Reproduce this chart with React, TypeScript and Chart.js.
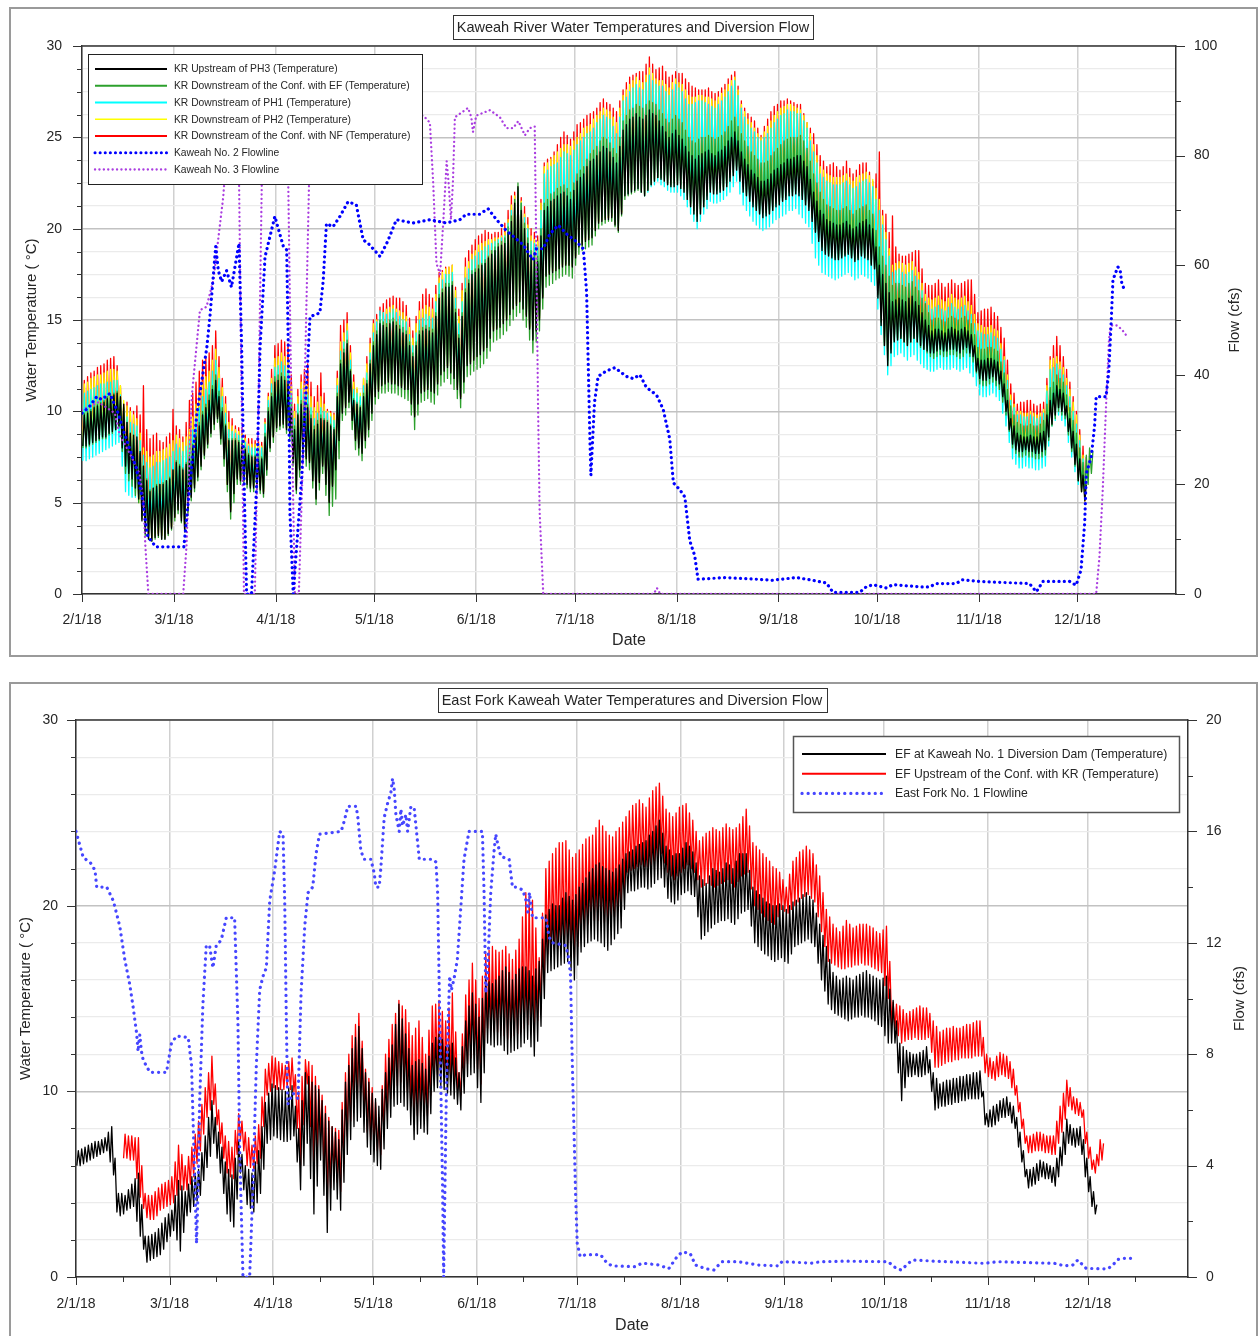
import React, { useEffect, useRef } from "react";
import { Chart, registerables } from "chart.js";

Chart.register(...registerables);

const FONT = "'Liberation Sans', Arial, Helvetica, sans-serif";
const TEXT = "#262626";

// ---------- shared x axis (days since 2/1/18) ----------
const monthStartDays = [0, 28, 59, 89, 120, 150, 181, 212, 242, 273, 303];
const monthLabels = ["2/1/18", "3/1/18", "4/1/18", "5/1/18", "6/1/18", "7/1/18", "8/1/18", "9/1/18", "10/1/18", "11/1/18", "12/1/18"];
const midMonthDays = [14, 42, 73, 103, 134, 164, 195, 226, 256, 287, 317];

// ---------- tick values ----------
const topTempTicks = [0, 1.25, 2.5, 3.75, 5, 6.25, 7.5, 8.75, 10, 11.25, 12.5, 13.75, 15, 16.25, 17.5, 18.75, 20, 21.25, 22.5, 23.75, 25, 26.25, 27.5, 28.75, 30];
const topFlowTicks = [0, 10, 20, 30, 40, 50, 60, 70, 80, 90, 100];
const bottomTempTicks = [0, 1, 2, 3, 4, 5, 6, 7, 8, 9, 10, 11, 12, 13, 14, 15, 16, 17, 18, 19, 20, 21, 22, 23, 24, 25, 26, 27, 28, 29, 30];
const bottomFlowTicks = [0, 2, 4, 6, 8, 10, 12, 14, 16, 18, 20];

// ---------- Chart 1: Kaweah River — daily [min, max] pairs, one pair per day from 2/1/18 ----------
const krUpstreamPH3 = [
  8.1,9.8, 8.1,9.9, 8.2,10.0, 8.3,10.2, 8.4,10.3, 8.5,10.4, 8.6,10.5, 8.6,10.7, 8.8,10.8, 8.9,10.9,
  9.0,11.0, 9.2,10.8, 8.0,10.4, 7.0,9.4, 6.6,8.8, 6.3,8.7, 5.8,8.6, 5.2,7.8, 4.0,7.0, 3.3,6.2,
  3.0,5.6, 2.9,5.8, 3.1,5.9, 3.2,6.0, 3.0,6.0, 3.0,6.2, 3.3,6.3, 3.6,6.8, 4.2,7.2, 4.6,7.0,
  4.0,6.8, 3.4,7.1, 4.6,7.4, 5.3,8.0, 5.8,8.6, 6.4,9.2, 7.0,9.8, 7.6,10.2, 8.2,10.6, 8.8,11.2,
  9.3,11.7, 9.6,10.8, 8.5,10.0, 7.4,9.2, 6.0,8.4, 4.5,8.4, 5.5,8.4, 6.3,8.3, 6.2,8.2, 6.2,7.9,
  6.0,7.6, 5.8,7.5, 5.8,7.5, 5.9,7.4, 5.7,7.4, 5.5,8.6, 6.8,10.0, 8.0,10.8, 8.6,11.6, 9.1,11.7,
  9.2,11.9, 9.3,11.7, 9.0,11.5, 8.8,10.2, 7.2,9.0, 5.7,9.8, 6.8,10.4, 7.6,10.3, 7.4,10.2, 7.2,9.6,
  6.2,9.0, 5.2,9.3, 6.1,9.6, 7.0,9.5, 6.0,9.4, 5.0,9.2, 5.9,9.0, 6.8,10.8, 8.4,12.6, 9.9,13.2,
  10.2,13.7, 10.5,12.2, 9.5,10.6, 8.4,10.4, 8.0,10.2, 7.7,10.8, 8.4,11.5, 9.0,12.6, 9.9,13.6, 10.8,14.2,
  11.1,14.8, 11.4,14.7, 11.5,14.6, 11.6,14.8, 11.5,14.9, 11.5,14.7, 11.4,14.5, 11.3,14.3, 11.2,14.2, 11.2,13.6,
  10.4,13.0, 9.7,13.6, 10.4,14.2, 11.0,14.4, 11.1,14.5, 11.2,14.4, 11.1,14.3, 11.0,15.2, 11.5,16.2, 12.0,16.5,
  12.2,16.8, 12.4,16.8, 12.1,16.9, 11.8,15.4, 11.2,14.0, 10.7,15.2, 11.6,16.5, 12.5,17.0, 12.6,17.5, 12.8,17.6,
  13.0,17.8, 13.1,18.0, 13.3,18.1, 13.5,18.4, 14.0,18.6, 14.4,18.8, 14.5,19.0, 14.6,19.1, 14.8,19.2, 15.0,19.8,
  15.3,20.4, 15.6,21.4, 15.8,22.3, 16.0,21.0, 15.6,20.0, 15.2,19.2, 14.5,18.5, 13.9,18.3, 14.4,18.2, 15.0,19.6,
  16.2,21.0, 17.4,21.2, 17.5,21.5, 17.6,21.6, 17.7,21.8, 17.8,21.9, 17.9,22.0, 18.0,21.8, 18.0,21.6, 17.9,22.1,
  18.4,22.6, 19.0,22.8, 19.1,23.0, 19.3,23.4, 19.4,23.7, 19.5,23.8, 19.9,24.0, 20.3,24.2, 20.4,24.5, 20.5,24.4,
  20.5,24.2, 20.6,23.9, 20.2,23.6, 19.9,24.5, 20.8,25.4, 21.8,25.7, 21.9,26.0, 22.0,26.1, 22.1,26.3, 22.2,26.1,
  22.0,26.0, 21.8,26.2, 22.1,26.5, 22.4,26.3, 22.6,26.2, 22.8,25.9, 22.7,25.6, 22.6,25.3, 22.4,25.0, 22.3,25.2,
  22.3,25.4, 22.4,25.1, 22.2,24.9, 22.0,24.5, 21.6,24.2, 21.2,24.0, 20.8,23.8, 20.4,24.0, 20.8,24.1, 21.2,24.2,
  21.6,24.3, 22.0,24.1, 21.9,24.0, 21.9,24.2, 22.0,24.3, 22.1,24.5, 22.3,24.8, 22.6,25.0, 22.9,25.3, 23.2,24.8,
  22.6,24.2, 22.0,23.8, 21.8,23.5, 21.5,23.2, 21.2,23.0, 21.0,22.8, 20.8,22.6, 20.6,22.6, 20.7,22.7, 20.8,23.0,
  21.0,23.2, 21.2,23.3, 21.3,23.5, 21.5,23.6, 21.6,23.8, 21.8,23.8, 21.8,23.9, 21.9,24.0, 21.8,24.0, 21.6,23.7,
  21.3,23.4, 21.0,22.7, 20.4,22.0, 19.8,21.5, 19.3,21.0, 18.8,20.8, 18.6,20.5, 18.5,20.4, 18.4,20.3, 18.3,20.2,
  18.3,20.2, 18.4,20.3, 18.5,20.4, 18.6,20.2, 18.4,20.0, 18.2,20.1, 18.3,20.3, 18.5,20.4, 18.4,20.5, 18.3,20.2,
  18.0,20.0, 17.8,19.0, 16.2,18.0, 14.7,17.5, 13.6,17.0, 12.5,16.5, 13.2,16.0, 13.8,16.1, 13.9,16.2, 14.0,16.1,
  13.8,16.0, 13.6,16.2, 13.8,16.3, 14.0,16.0, 13.8,15.8, 13.6,15.4, 13.4,15.0, 13.3,14.7, 13.2,14.4, 13.2,14.5,
  13.3,14.5, 13.4,14.4, 13.3,14.3, 13.3,14.5, 13.4,14.6, 13.4,14.5, 13.3,14.4, 13.2,14.5, 13.4,14.6, 13.5,14.4,
  13.2,14.2, 13.0,13.6, 12.2,12.9, 11.8,12.8, 11.7,12.8, 11.7,12.9, 11.8,12.9, 11.9,12.8, 11.7,12.7, 11.5,12.2,
  10.8,11.5, 10.0,10.6, 9.0,9.6, 8.2,9.2, 7.9,8.8, 7.8,8.7, 7.8,8.6, 7.9,8.6, 7.8,8.7, 7.8,8.6,
  7.7,8.6, 7.7,8.8, 7.8,8.9, 7.9,9.8, 8.6,10.6, 9.3,11.0, 9.8,11.4, 10.2,11.2, 10.0,11.0, 9.8,10.3,
  8.9,9.6, 8.0,8.9, 7.1,8.2, 6.2,7.4, 5.6,6.5, 5.1,6.0,
];

const krDownstreamConfEF = [
  8.0,9.9, 8.0,10.0, 8.1,10.1, 8.2,10.3, 8.3,10.4, 8.4,10.5, 8.5,10.6, 8.5,10.8, 8.7,10.9, 8.8,11.0,
  9.0,11.1, 9.1,10.6, 7.8,10.2, 6.6,9.4, 6.2,8.6, 5.9,8.5, 5.4,8.4, 5.0,7.7, 4.1,7.0, 3.2,6.3,
  3.0,5.7, 2.9,5.8, 3.0,6.0, 3.1,6.0, 3.0,6.1, 3.0,6.2, 3.2,6.4, 3.5,6.8, 4.0,7.3, 4.4,7.1,
  3.9,6.9, 3.5,7.2, 4.3,7.6, 5.1,8.2, 5.6,8.8, 6.2,9.4, 6.8,10.0, 7.4,10.4, 8.0,10.9, 8.6,11.4,
  9.0,12.0, 9.4,11.1, 8.2,10.2, 7.0,9.3, 5.6,8.5, 4.1,8.5, 5.0,8.5, 6.0,8.4, 6.0,8.3, 6.0,8.0,
  5.8,7.7, 5.6,7.6, 5.6,7.6, 5.7,7.5, 5.5,7.5, 5.3,8.8, 6.5,10.2, 7.8,11.0, 8.3,11.9, 8.9,12.0,
  9.0,12.1, 9.1,11.9, 8.8,11.7, 8.5,10.4, 7.0,9.2, 5.5,9.9, 6.4,10.6, 7.3,10.5, 7.0,10.4, 6.8,9.8,
  5.8,9.2, 4.9,9.5, 5.7,9.8, 6.6,9.6, 5.4,9.5, 4.3,9.3, 4.8,9.1, 5.2,11.0, 7.4,12.8, 9.5,13.4,
  9.8,13.9, 10.2,12.3, 9.0,10.7, 7.9,10.5, 7.6,10.3, 7.3,11.0, 8.0,11.7, 8.6,12.8, 9.5,13.8, 10.4,14.4,
  10.7,15.0, 11.0,14.9, 11.0,14.8, 11.1,15.0, 11.0,15.1, 11.0,14.9, 10.9,14.7, 10.8,14.6, 10.7,14.4, 10.6,13.8,
  9.8,13.2, 9.0,13.8, 9.8,14.4, 10.5,14.6, 10.6,14.7, 10.7,14.6, 10.5,14.5, 10.4,15.4, 10.9,16.4, 11.4,16.7,
  11.6,17.0, 11.8,17.0, 11.5,17.1, 11.2,15.6, 10.7,14.2, 10.2,15.4, 11.0,16.7, 11.9,17.2, 12.0,17.7, 12.2,17.8,
  12.3,18.0, 12.4,18.1, 12.6,18.3, 12.9,18.5, 13.3,18.8, 13.8,19.0, 13.9,19.2, 14.0,19.3, 14.2,19.5, 14.4,20.1,
  14.7,20.7, 15.0,21.6, 15.2,22.5, 15.4,21.4, 15.0,20.3, 14.6,19.5, 13.9,18.8, 13.2,18.6, 13.8,18.5, 14.4,20.0,
  15.6,21.4, 16.8,21.6, 16.9,21.9, 17.0,22.0, 17.2,22.2, 17.3,22.3, 17.4,22.4, 17.5,22.2, 17.4,22.0, 17.3,22.5,
  18.0,23.0, 18.6,23.2, 18.8,23.4, 18.9,23.8, 19.0,24.1, 19.1,24.3, 19.6,24.5, 20.0,24.8, 20.2,25.0, 20.3,24.9,
  20.4,24.7, 20.4,24.4, 20.1,24.1, 19.8,25.0, 20.7,25.9, 21.6,26.2, 21.8,26.5, 21.9,26.6, 22.0,26.8, 22.1,26.7,
  22.0,26.6, 21.8,26.8, 22.1,27.0, 22.4,26.9, 22.6,26.8, 22.8,26.5, 22.8,26.3, 22.7,26.0, 22.5,25.8, 22.4,26.0,
  22.5,26.2, 22.6,26.0, 22.4,25.8, 22.2,25.4, 21.8,25.0, 21.4,24.8, 21.0,24.7, 20.7,24.9, 21.1,25.0, 21.5,25.0,
  21.8,25.1, 22.2,25.0, 22.1,24.9, 22.1,25.0, 22.2,25.1, 22.3,25.3, 22.5,25.6, 22.8,25.9, 23.1,26.1, 23.4,25.6,
  22.8,25.2, 22.3,24.8, 22.0,24.5, 21.8,24.2, 21.5,24.0, 21.2,23.8, 21.0,23.6, 20.9,23.6, 20.9,23.7, 21.0,24.0,
  21.2,24.2, 21.4,24.4, 21.5,24.6, 21.7,24.8, 21.8,24.9, 22.0,25.0, 22.0,25.0, 22.1,25.0, 22.0,25.1, 21.8,24.8,
  21.5,24.4, 21.2,23.7, 20.6,23.0, 20.0,22.5, 19.5,22.0, 19.0,21.6, 18.8,21.3, 18.6,21.2, 18.5,21.1, 18.4,21.0,
  18.4,21.0, 18.5,21.1, 18.6,21.2, 18.7,21.0, 18.5,20.8, 18.3,21.0, 18.4,21.1, 18.6,21.2, 18.5,21.3, 18.4,21.0,
  18.1,20.8, 17.9,19.9, 16.4,19.0, 14.9,18.5, 13.8,18.0, 12.8,17.4, 13.4,16.9, 13.9,17.0, 14.0,17.0, 14.0,16.9,
  13.8,16.8, 13.6,17.0, 13.8,17.1, 14.0,16.8, 13.8,16.6, 13.5,16.2, 13.4,15.9, 13.2,15.4, 13.0,15.0, 12.9,15.1,
  13.0,15.1, 13.1,15.0, 13.0,14.9, 13.0,15.1, 13.1,15.2, 13.1,15.1, 13.0,15.0, 12.9,15.1, 13.0,15.2, 13.2,15.0,
  13.0,14.8, 12.7,14.2, 12.1,13.5, 11.5,13.4, 11.4,13.4, 11.4,13.5, 11.5,13.5, 11.6,13.4, 11.4,13.3, 11.2,12.7,
  10.5,12.1, 9.8,11.2, 8.9,10.3, 8.0,9.8, 7.7,9.4, 7.5,9.3, 7.5,9.2, 7.6,9.2, 7.5,9.3, 7.5,9.2,
  7.4,9.2, 7.4,9.3, 7.5,9.5, 7.6,10.4, 8.4,11.3, 9.2,11.6, 9.6,12.0, 10.0,11.8, 9.8,11.6, 9.6,10.9,
  8.7,10.2, 7.8,9.5, 7.0,8.8, 6.2,8.0, 5.8,7.2, 5.3,7.6, 6.0,8.0, 6.6,7.8,
];

const krDownstreamPH1 = [
  7.3,11.0, 7.3,11.1, 7.4,11.2, 7.5,11.3, 7.6,11.4, 7.7,11.5, 7.8,11.5, 7.9,11.6, 8.0,11.6, 8.1,11.7,
  8.2,11.7, 8.3,10.9, 7.0,10.0, 5.6,9.7, 5.4,9.4, 5.3,9.3, 5.3,9.2, 5.3,8.4, 4.4,7.6, 3.6,7.2,
  3.5,6.9, 3.4,7.0, 3.5,7.2, 3.6,7.2, 3.5,7.3, 3.4,7.4, 3.6,7.5, 3.9,7.8, 4.4,8.2, 4.8,8.0,
  4.3,7.8, 3.8,8.1, 4.7,8.4, 5.6,9.0, 6.1,9.6, 6.7,10.2, 7.3,10.8, 7.9,11.2, 8.5,11.6, 9.0,12.2,
  9.4,12.8, 9.8,11.8, 8.7,10.8, 7.6,9.9, 6.2,9.0, 4.8,8.9, 5.6,8.8, 6.5,8.7, 6.4,8.6, 6.4,8.3,
  6.2,8.1, 6.0,8.0, 6.0,8.0, 6.1,8.0, 5.9,8.0, 5.7,9.3, 7.0,10.6, 8.2,11.5, 8.7,12.4, 9.3,12.5,
  9.4,12.7, 9.5,12.5, 9.2,12.3, 9.0,11.0, 7.4,9.6, 5.9,10.4, 6.8,11.2, 7.8,11.0, 7.6,10.9, 7.4,10.2,
  6.4,9.6, 5.4,9.9, 6.3,10.2, 7.2,10.0, 6.2,9.9, 5.2,9.7, 6.1,9.5, 7.0,11.4, 8.6,13.3, 10.1,13.8,
  10.4,14.4, 10.7,12.8, 9.6,11.2, 8.6,11.0, 8.2,10.8, 7.9,11.4, 8.6,12.1, 9.2,13.2, 10.1,14.3, 11.0,14.9,
  11.3,15.5, 11.6,15.4, 11.7,15.3, 11.8,15.4, 11.7,15.6, 11.7,15.4, 11.6,15.2, 11.5,15.0, 11.4,14.9, 11.4,14.2,
  10.6,13.6, 9.9,14.3, 10.6,15.0, 11.2,15.1, 11.3,15.3, 11.4,15.2, 11.3,15.1, 11.2,16.0, 11.7,17.0, 12.2,17.2,
  12.4,17.5, 12.6,17.5, 12.3,17.6, 12.0,16.2, 11.4,14.8, 10.9,16.0, 11.8,17.3, 12.7,17.8, 12.8,18.3, 13.0,18.5,
  13.1,18.7, 13.3,18.8, 13.5,19.0, 13.7,19.1, 14.2,19.2, 14.6,19.3, 14.7,19.4, 14.8,19.5, 15.0,19.6, 15.2,20.3,
  15.5,21.0, 15.8,21.6, 16.0,22.2, 16.2,21.4, 15.8,20.6, 15.4,20.0, 14.8,19.3, 14.1,19.2, 14.6,19.0, 15.2,21.0,
  16.4,23.0, 17.6,23.2, 17.7,23.4, 17.8,23.5, 17.9,23.6, 18.0,23.9, 18.1,24.2, 18.2,24.1, 18.1,24.0, 18.1,24.3,
  18.6,24.6, 19.2,24.8, 19.3,25.0, 19.5,25.2, 19.6,25.3, 19.7,25.5, 20.1,25.8, 20.5,26.0, 20.6,26.2, 20.7,26.1,
  20.7,26.0, 20.8,25.6, 20.4,25.2, 20.1,26.1, 21.0,27.0, 21.9,27.2, 21.9,27.5, 22.0,27.7, 22.1,27.9, 22.2,27.7,
  22.0,27.6, 21.8,28.0, 22.0,28.4, 22.3,28.1, 22.4,27.9, 22.6,27.8, 22.4,27.8, 22.3,27.5, 22.1,27.3, 22.0,27.6,
  22.0,27.9, 22.0,27.7, 21.8,27.5, 21.6,27.1, 21.2,26.8, 20.8,26.8, 20.4,26.9, 20.0,27.0, 20.4,27.0, 20.8,26.9,
  21.1,26.8, 21.5,26.7, 21.4,26.6, 21.4,26.8, 21.5,27.0, 21.6,27.2, 21.8,27.5, 22.0,27.8, 22.3,28.1, 22.6,27.3,
  21.9,26.6, 21.3,26.1, 21.0,25.7, 20.7,25.5, 20.4,25.3, 20.2,25.0, 20.0,24.8, 19.9,25.0, 20.0,25.2, 20.1,25.5,
  20.3,25.8, 20.5,26.0, 20.6,26.2, 20.7,26.3, 20.8,26.5, 21.0,26.4, 21.0,26.4, 21.1,26.3, 20.8,26.3, 20.6,25.9,
  20.3,25.5, 20.1,24.8, 19.2,24.2, 18.4,23.6, 18.0,23.0, 17.6,22.8, 17.5,22.6, 17.4,22.5, 17.3,22.4, 17.2,22.4,
  17.3,22.4, 17.4,22.5, 17.5,22.6, 17.6,22.4, 17.4,22.2, 17.2,22.3, 17.3,22.5, 17.5,22.6, 17.4,22.7, 17.3,22.5,
  17.1,22.3, 16.9,21.6, 15.6,21.0, 14.2,20.2, 13.1,19.4, 12.0,18.5, 12.5,17.6, 13.0,17.7, 13.1,17.8, 13.2,17.6,
  13.0,17.5, 12.8,17.6, 13.0,17.7, 13.1,17.4, 12.8,17.2, 12.6,16.6, 12.4,16.0, 12.3,15.8, 12.2,15.6, 12.2,15.7,
  12.3,15.8, 12.4,15.6, 12.3,15.5, 12.3,15.7, 12.3,15.9, 12.4,15.7, 12.3,15.6, 12.2,15.7, 12.3,15.8, 12.4,15.5,
  12.1,15.3, 11.9,14.8, 11.4,14.4, 10.9,14.3, 10.8,14.2, 10.8,14.2, 10.9,14.3, 11.0,14.1, 10.8,14.0, 10.6,13.4,
  9.9,12.8, 9.2,11.7, 8.3,10.6, 7.4,10.2, 7.1,9.8, 6.9,9.8, 6.9,9.7, 7.0,9.7, 6.9,9.8, 6.9,9.7,
  6.8,9.6, 6.8,9.7, 6.9,9.9, 7.0,11.1, 8.1,12.3, 9.2,12.4, 9.5,12.6, 9.8,12.3, 9.5,12.0, 9.2,11.4,
  8.3,10.8, 7.5,10.0, 6.7,9.3, 6.0,8.4, 5.6,7.4, 5.3,7.0,
];

const krDownstreamPH2 = [
  8.0,11.5, 8.0,11.6, 8.1,11.8, 8.2,11.9, 8.3,12.0, 8.4,12.0, 8.5,12.1, 8.5,12.2, 8.7,12.3, 8.8,12.3,
  9.0,12.2, 9.1,11.4, 8.0,10.6, 6.8,10.3, 6.5,10.0, 6.2,9.8, 5.6,9.6, 5.0,8.8, 4.2,8.0, 3.4,7.8,
  3.2,7.5, 3.0,7.6, 3.2,7.8, 3.3,7.8, 3.2,7.9, 3.1,8.0, 3.4,8.2, 3.7,8.4, 4.2,8.7, 4.7,8.5,
  4.2,8.3, 3.6,8.6, 4.5,9.0, 5.4,9.7, 6.0,10.4, 6.5,11.0, 7.1,11.6, 7.7,11.9, 8.3,12.2, 8.9,12.8,
  9.3,13.4, 9.7,12.4, 8.6,11.3, 7.5,10.4, 6.0,9.4, 4.6,9.2, 5.5,9.0, 6.4,8.9, 6.3,8.8, 6.3,8.5,
  6.1,8.2, 5.9,8.2, 5.9,8.2, 6.0,8.2, 5.8,8.1, 5.6,9.4, 6.9,10.8, 8.1,11.8, 8.6,12.9, 9.2,13.0,
  9.3,13.2, 9.4,13.0, 9.1,12.8, 8.9,11.4, 7.3,10.0, 5.8,10.8, 6.8,11.6, 7.7,11.5, 7.5,11.4, 7.3,10.8,
  6.3,10.2, 5.3,10.5, 6.2,10.8, 7.1,10.4, 6.1,10.0, 5.1,9.9, 6.0,9.8, 6.9,11.8, 8.5,13.8, 10.0,14.3,
  10.3,14.8, 10.6,13.2, 9.6,11.6, 8.5,11.3, 8.2,11.0, 7.8,11.8, 8.5,12.6, 9.1,13.7, 10.0,14.8, 10.9,15.0,
  11.2,15.2, 11.5,15.4, 11.6,15.6, 11.7,15.7, 11.6,15.8, 11.6,15.6, 11.5,15.5, 11.4,15.4, 11.3,15.2, 11.3,14.6,
  10.5,14.0, 9.8,14.8, 10.5,15.5, 11.1,15.6, 11.2,15.8, 11.3,15.7, 11.2,15.6, 11.1,16.4, 11.6,17.3, 12.1,17.6,
  12.3,17.8, 12.5,17.9, 12.2,18.0, 11.9,16.6, 11.3,15.2, 10.8,16.6, 11.7,17.9, 12.6,18.2, 12.7,18.6, 12.9,18.8,
  13.0,19.1, 13.2,19.2, 13.4,19.3, 13.6,19.4, 14.1,19.4, 14.5,19.5, 14.6,19.5, 14.7,19.6, 14.9,19.8, 15.1,20.5,
  15.4,21.3, 15.7,21.8, 15.9,22.2, 16.1,21.5, 15.7,20.8, 15.3,20.2, 14.6,19.6, 14.0,19.4, 14.5,19.3, 15.1,21.4,
  16.3,23.4, 17.5,23.6, 17.6,23.8, 17.7,24.0, 17.8,24.2, 17.9,24.4, 18.0,24.6, 18.1,24.6, 18.0,24.5, 18.0,24.8,
  18.5,25.0, 19.1,25.2, 19.2,25.5, 19.4,25.6, 19.5,25.7, 19.6,26.0, 20.0,26.2, 20.4,26.4, 20.5,26.6, 20.6,26.5,
  20.6,26.4, 20.7,26.1, 20.3,25.8, 20.0,26.6, 20.9,27.3, 21.9,27.6, 22.0,27.9, 22.1,28.1, 22.2,28.3, 22.3,28.1,
  22.1,28.0, 21.9,28.4, 22.2,28.8, 22.5,28.5, 22.7,28.2, 22.8,28.1, 22.7,28.1, 22.6,27.9, 22.4,27.7, 22.3,28.0,
  22.3,28.2, 22.4,28.0, 22.2,27.9, 22.0,27.6, 21.6,27.3, 21.2,27.2, 20.8,27.2, 20.4,27.3, 20.8,27.3, 21.2,27.2,
  21.6,27.2, 22.0,27.1, 21.9,27.0, 21.9,27.2, 22.0,27.4, 22.1,27.6, 22.3,27.9, 22.6,28.1, 22.9,28.3, 23.2,27.6,
  22.6,26.8, 22.0,26.4, 21.8,26.0, 21.5,25.8, 21.2,25.5, 21.0,25.2, 20.8,25.0, 20.6,25.3, 20.7,25.6, 20.8,25.9,
  21.0,26.2, 21.2,26.4, 21.3,26.6, 21.5,26.7, 21.6,26.8, 21.8,26.8, 21.8,26.7, 21.9,26.6, 21.8,26.5, 21.6,26.2,
  21.3,25.8, 21.0,25.2, 20.4,24.6, 19.8,24.0, 19.3,23.4, 18.8,23.2, 18.6,23.0, 18.5,22.9, 18.4,22.8, 18.3,22.8,
  18.3,22.8, 18.4,22.9, 18.5,23.0, 18.6,22.8, 18.4,22.6, 18.2,22.8, 18.3,22.9, 18.5,23.0, 18.4,23.1, 18.3,22.9,
  18.0,22.7, 17.8,22.2, 16.2,21.6, 14.7,20.7, 13.6,19.8, 12.5,18.9, 13.2,18.0, 13.8,18.1, 13.9,18.2, 14.0,18.1,
  13.8,18.0, 13.6,18.1, 13.8,18.2, 14.0,17.9, 13.8,17.6, 13.6,17.0, 13.4,16.4, 13.3,16.2, 13.2,16.1, 13.2,16.2,
  13.3,16.3, 13.4,16.1, 13.3,16.0, 13.3,16.2, 13.4,16.4, 13.4,16.2, 13.3,16.1, 13.2,16.2, 13.4,16.3, 13.5,16.0,
  13.2,15.8, 13.0,15.3, 12.2,14.8, 11.8,14.7, 11.7,14.6, 11.7,14.6, 11.8,14.7, 11.9,14.5, 11.7,14.4, 11.5,13.7,
  10.8,13.0, 10.0,12.0, 9.0,10.9, 8.2,10.4, 7.9,10.0, 7.8,10.0, 7.8,9.9, 7.9,9.9, 7.8,10.0, 7.8,9.9,
  7.7,9.8, 7.7,9.9, 7.8,10.1, 7.9,11.4, 8.6,12.8, 9.3,12.9, 9.8,13.0, 10.2,12.7, 10.0,12.4, 9.8,11.8,
  8.9,11.2, 8.0,10.5, 7.1,9.8, 6.2,8.7, 5.6,7.6, 5.1,7.2,
];

const krDownstreamConfNF = [
  8.2,11.7, 8.2,11.9, 8.3,12.1, 8.4,12.2, 8.5,12.4, 8.6,12.5, 8.6,12.6, 8.7,12.8, 8.8,12.9, 9.0,13.0,
  9.1,12.5, 9.3,11.4, 8.1,10.4, 7.0,10.5, 6.7,10.2, 6.4,10.0, 5.8,10.3, 5.2,9.8, 4.3,11.4, 3.5,9.0,
  3.2,8.5, 3.0,8.7, 3.2,8.8, 3.3,8.4, 3.2,8.3, 3.1,8.6, 3.4,8.8, 3.7,10.1, 4.2,9.2, 4.7,9.0,
  4.2,8.6, 3.6,9.4, 4.5,10.6, 5.4,11.0, 6.0,11.6, 6.5,12.2, 7.1,12.8, 7.7,12.9, 8.3,13.2, 8.9,13.6,
  9.3,14.4, 9.7,13.0, 8.6,11.8, 7.5,10.8, 6.0,10.0, 4.6,9.6, 5.5,9.2, 6.4,9.1, 6.3,9.0, 6.3,8.7,
  6.1,8.5, 5.9,8.5, 5.9,8.4, 6.0,8.4, 5.8,8.3, 5.6,9.6, 6.9,11.0, 8.1,12.3, 8.6,13.6, 9.2,13.7,
  9.3,13.9, 9.4,13.8, 9.1,13.7, 8.9,12.0, 7.3,10.4, 5.8,11.2, 6.8,12.0, 7.7,12.3, 7.5,12.6, 7.3,11.6,
  6.3,10.8, 5.3,11.4, 6.2,12.1, 7.1,11.0, 6.1,10.1, 5.1,10.0, 6.0,9.9, 6.9,12.2, 8.5,14.7, 10.0,15.0,
  10.3,15.4, 10.6,13.6, 9.6,12.0, 8.5,11.2, 8.2,10.6, 7.8,11.8, 8.5,13.0, 9.1,14.0, 10.0,15.0, 10.9,15.3,
  11.2,15.7, 11.5,15.9, 11.6,16.1, 11.7,16.2, 11.6,16.3, 11.6,16.2, 11.5,16.2, 11.4,16.0, 11.3,15.8, 11.3,15.1,
  10.5,14.4, 9.8,15.2, 10.5,16.0, 11.1,16.4, 11.2,16.7, 11.3,16.4, 11.2,16.2, 11.1,16.9, 11.6,17.6, 12.1,17.7,
  12.3,17.9, 12.5,17.9, 12.2,18.0, 11.9,16.8, 11.3,15.6, 10.8,17.0, 11.7,18.4, 12.6,18.8, 12.7,19.1, 12.9,19.4,
  13.0,19.6, 13.2,19.7, 13.4,19.9, 13.6,19.8, 14.1,19.7, 14.5,19.8, 14.6,19.8, 14.7,20.0, 14.9,20.3, 15.1,21.0,
  15.4,21.8, 15.7,22.0, 15.9,22.2, 16.1,21.7, 15.7,21.2, 15.3,20.6, 14.6,20.0, 14.0,19.8, 14.5,19.6, 15.1,21.6,
  16.3,23.6, 17.5,23.8, 17.6,23.9, 17.7,24.2, 17.8,24.6, 17.9,25.0, 18.0,25.3, 18.1,25.1, 18.0,24.9, 18.0,25.3,
  18.5,25.7, 19.1,25.8, 19.2,26.0, 19.4,26.2, 19.5,26.3, 19.6,26.4, 20.0,26.6, 20.4,26.9, 20.5,27.1, 20.6,26.9,
  20.6,26.8, 20.7,26.6, 20.3,26.4, 20.0,27.0, 20.9,27.6, 21.9,28.0, 22.0,28.3, 22.1,28.4, 22.2,28.5, 22.3,28.6,
  22.1,28.6, 21.9,29.0, 22.2,29.4, 22.5,29.0, 22.7,28.7, 22.8,28.8, 22.7,28.9, 22.6,28.6, 22.4,28.3, 22.3,28.4,
  22.3,28.6, 22.4,28.5, 22.2,28.5, 22.0,28.2, 21.6,28.0, 21.2,27.8, 20.8,27.7, 20.4,27.6, 20.8,27.6, 21.2,27.6,
  21.6,27.7, 22.0,27.5, 21.9,27.4, 21.9,27.5, 22.0,27.7, 22.1,27.9, 22.3,28.2, 22.6,28.4, 22.9,28.6, 23.2,27.8,
  22.6,27.0, 22.0,26.6, 21.8,26.3, 21.5,26.1, 21.2,25.9, 21.0,25.5, 20.8,25.1, 20.6,25.6, 20.7,26.0, 20.8,26.4,
  21.0,26.7, 21.2,26.8, 21.3,27.0, 21.5,27.0, 21.6,27.1, 21.8,27.0, 21.8,26.9, 21.9,26.8, 21.8,26.8, 21.6,26.3,
  21.3,25.8, 21.0,25.5, 20.4,25.2, 19.8,24.6, 19.3,24.0, 18.8,23.7, 18.6,23.4, 18.5,23.5, 18.4,23.6, 18.3,23.4,
  18.3,23.2, 18.4,23.4, 18.5,23.7, 18.6,23.3, 18.4,23.0, 18.2,23.2, 18.3,23.5, 18.5,23.6, 18.4,23.6, 18.3,23.1,
  18.0,22.6, 17.8,23.0, 16.2,24.2, 14.7,21.0, 13.6,20.8, 12.5,19.8, 13.2,20.7, 13.8,19.0, 13.9,18.6, 14.0,18.5,
  13.8,18.5, 13.6,18.6, 13.8,18.7, 14.0,18.8, 13.8,18.8, 13.6,17.8, 13.4,17.0, 13.3,16.9, 13.2,16.9, 13.2,17.0,
  13.3,17.2, 13.4,17.0, 13.3,16.8, 13.3,17.0, 13.4,17.2, 13.4,17.0, 13.3,16.9, 13.2,17.0, 13.4,17.1, 13.5,17.2,
  13.2,17.2, 13.0,16.4, 12.2,15.4, 11.8,15.5, 11.7,15.6, 11.7,15.6, 11.8,15.7, 11.9,15.4, 11.7,15.2, 11.5,14.6,
  10.8,14.0, 10.0,12.8, 9.0,11.5, 8.2,11.0, 7.9,10.4, 7.8,10.5, 7.8,10.5, 7.9,10.6, 7.8,10.6, 7.8,10.4,
  7.7,10.3, 7.7,10.4, 7.8,10.5, 7.9,11.8, 8.6,13.0, 9.3,13.6, 9.8,14.1, 10.2,13.6, 10.0,13.0, 9.8,12.3,
  8.9,11.6, 8.0,10.8, 7.1,10.0, 6.2,9.0, 5.6,8.1, 5.1,7.5,
];

// [day since 2/1/18, cfs]
const kaweah2Flowline: [number, number][] = [
  [0, 33], [2, 34], [4.5, 36], [6, 35.5], [8.5, 36.6], [11, 33], [12.5, 30], [16.5, 23], [18.5, 17], [20, 10.5],
  [22.5, 8.6], [31, 8.6], [32, 14.7], [33.1, 21.3], [35, 33], [38, 45], [39, 51], [40.7, 63.4], [41.5, 59], [42.5, 57],
  [44, 59], [45.5, 56], [47.8, 64], [48.6, 45], [49.1, 27], [50.1, 0], [51.6, 0], [53.2, 20.6], [54.2, 45], [55.7, 61.5],
  [58.7, 68.9], [61.3, 63.4], [62.3, 62.8], [62.8, 45], [63.3, 14.7], [64.3, 0], [66.8, 20.6], [68.4, 39], [69.4, 50.6], [72.4, 51.3],
  [73.4, 57], [74.4, 67.6], [76.4, 67], [78.5, 68.9], [81, 71.6], [83.5, 71], [85.6, 64.6], [87.1, 64], [90.7, 61.6], [93, 64.3],
  [95.7, 68.3], [100.8, 67.7], [105.9, 68.3], [110.9, 67.7], [115, 68.3], [117, 69.3], [121, 69.3], [123.6, 70.3], [126.2, 68.3], [129.2, 66.3],
  [131.2, 65.3], [134.3, 63.7], [137.3, 61], [138.3, 63], [140.4, 63], [142.4, 65.7], [145, 67.3], [147.5, 65.7], [150.5, 64.3], [152.6, 63],
  [153.6, 55], [154.1, 41.7], [154.6, 28.3], [154.9, 21.7], [156, 35], [157.1, 39.7], [159.6, 40.7], [162.2, 41.3], [165.7, 39.7], [167.8, 39.3],
  [169.8, 40], [171.8, 37.7], [174.9, 36.3], [176.9, 33.7], [178.9, 28.3], [180, 20.3], [182, 19], [183.5, 17.7], [185, 9.7], [186.5, 7],
  [187.5, 2.7], [196, 3], [205, 2.7], [210, 2.5], [217.5, 3], [222.5, 2.5], [226.6, 2], [228.6, 0.3], [236.7, 0.3], [238.7, 1.3],
  [240.8, 1.7], [244.8, 1.1], [246.8, 1.7], [255, 1.3], [258, 1.3], [260, 1.9], [266, 1.9], [268, 2.6], [273, 2.3], [288.4, 1.9],
  [290.5, 0.4], [292.5, 2.3], [300.6, 2.3], [302.6, 1.6], [304.1, 4.4], [305.2, 12.9], [305.7, 22], [307.2, 25], [308.2, 30.5], [308.7, 36],
  [311.7, 36], [312.5, 40.3], [313.3, 50], [313.8, 57.3], [315.3, 59.7], [316, 59.1], [316.5, 56.7], [317.5, 55.2],
];

const kaweah3Flowline: [number, number][] = [
  [0, 33.6], [5, 35], [10, 33], [11.5, 29], [14.5, 25.7], [17.5, 22], [18.7, 17], [19.3, 8.6], [20.2, 0], [30.8, 0],
  [31.8, 8.6], [33.4, 36], [35.9, 51.8], [37.9, 52.4], [40, 57.3], [43, 72.5], [44.5, 85], [46.5, 87], [47.6, 86], [48.3, 50],
  [49.3, 0], [52.6, 0], [53.6, 30], [55, 86], [62.5, 87], [63.6, 40], [64.8, 0], [66, 0], [67.5, 30], [69.5, 86],
  [80, 87], [95, 87], [103.9, 87.3], [105.9, 86], [106.9, 75], [107.9, 60.3], [109, 58.3], [110, 68.3], [111, 79], [111.6, 75],
  [112.3, 68.3], [112.9, 75], [113.5, 87], [117.5, 88.7], [118.5, 87], [119, 84.3], [120, 87.3], [124.2, 88.3], [127.2, 87], [129.2, 85],
  [131.2, 85], [132.8, 86.3], [134.8, 83.7], [136.3, 85], [137.8, 85.3], [138.3, 61.7], [138.8, 35], [139.3, 15], [140.4, 0], [174, 0],
  [175, 1.1], [176, 0], [308.7, 0], [309.7, 6.8], [310.7, 19], [311.7, 34.2], [312.6, 46.4], [313.1, 49], [315.1, 49], [316.6, 48.2],
  [318.1, 47],
];

// ---------- Chart 2: East Fork Kaweah — daily [min, max] pairs ----------
const efDiversionDamStartDay = 0;
const efDiversionDam = [
  6.0,6.8, 6.0,6.9, 6.1,7.0, 6.2,7.1, 6.3,7.2, 6.4,7.3, 6.5,7.3, 6.6,7.4, 6.7,7.5, 6.8,7.8,
  6.2,8.1, 5.5,6.4, 3.5,4.5, 3.3,4.5, 3.4,4.4, 3.6,4.7, 3.7,5.0, 3.8,5.3, 3.0,5.6, 2.2,3.9,
  1.5,2.2, 0.8,2.2, 0.9,2.3, 1.0,2.4, 1.1,2.6, 1.2,2.9, 1.5,3.2, 1.9,3.4, 2.2,3.6, 2.5,4.4,
  2.0,5.2, 1.4,4.9, 2.4,4.6, 3.3,5.0, 3.5,5.4, 3.8,5.6, 4.1,5.8, 4.4,6.7, 5.2,7.6, 5.9,8.6,
  6.5,9.5, 7.2,8.6, 6.4,7.8, 5.6,7.0, 4.5,6.2, 3.4,5.8, 3.0,5.5, 2.7,6.4, 4.2,7.3, 5.6,6.6,
  4.7,6.0, 3.9,5.8, 3.7,5.6, 3.5,6.2, 4.0,6.8, 4.5,8.1, 5.8,9.4, 7.2,9.9, 7.4,10.4, 7.6,10.3,
  7.5,10.2, 7.4,10.1, 7.3,10.0, 7.3,10.2, 7.4,10.3, 7.6,9.2, 6.2,8.0, 4.7,9.5, 6.0,11.0, 7.2,10.8,
  5.3,10.5, 3.4,10.3, 4.9,10.1, 6.3,9.5, 4.4,8.8, 2.4,8.4, 3.6,8.1, 4.7,7.8, 4.2,7.4, 3.6,9.0,
  5.1,10.5, 6.6,11.4, 7.4,12.3, 8.1,12.9, 8.4,13.5, 8.6,12.3, 7.8,11.0, 7.0,10.5, 6.6,9.9, 6.2,9.6,
  6.0,9.2, 5.8,10.1, 6.9,11.0, 8.0,11.8, 8.6,12.5, 9.2,13.6, 9.3,14.7, 9.4,13.9, 9.2,13.1, 9.0,12.3,
  8.2,11.4, 7.4,11.6, 7.7,11.7, 8.0,11.5, 7.8,11.2, 7.7,11.9, 8.8,12.6, 10.0,12.9, 10.2,13.1, 10.3,12.8,
  10.1,12.4, 9.9,12.5, 9.8,12.6, 9.6,11.8, 9.3,11.0, 9.0,12.4, 9.9,13.8, 10.8,14.6, 10.9,15.3, 11.0,14.7,
  10.2,14.0, 9.4,15.0, 11.0,16.0, 12.6,15.9, 12.5,15.8, 12.4,16.0, 12.5,16.2, 12.5,16.5, 12.2,16.7, 12.0,16.4,
  12.1,16.0, 12.2,16.3, 12.3,16.6, 12.4,16.7, 12.6,16.7, 12.8,16.5, 12.4,16.2, 11.9,16.6, 12.7,17.0, 13.5,18.2,
  15.0,19.5, 16.4,19.8, 16.5,20.1, 16.6,20.0, 16.7,20.0, 16.8,20.4, 16.9,20.7, 17.0,20.5, 16.5,20.3, 16.0,20.6,
  16.8,21.0, 17.5,21.2, 17.8,21.5, 18.0,21.8, 18.1,22.0, 18.2,22.2, 18.1,22.3, 18.0,22.1, 17.8,22.0, 17.6,21.9,
  17.9,21.8, 18.2,22.0, 18.5,22.2, 18.8,22.5, 19.8,22.8, 20.7,22.9, 20.8,23.0, 20.8,23.2, 20.9,23.3, 21.0,23.4,
  21.0,23.5, 20.9,23.8, 21.0,24.0, 21.2,24.3, 21.4,24.6, 21.5,23.9, 21.0,23.2, 20.4,23.0, 20.2,22.7, 20.1,22.8,
  20.3,22.8, 20.6,23.1, 20.7,23.4, 20.8,23.2, 20.6,22.9, 20.5,22.3, 19.4,21.6, 18.2,21.4, 18.4,21.2, 18.6,21.6,
  18.8,22.0, 19.0,21.9, 19.1,21.8, 19.2,22.0, 19.2,22.3, 19.3,22.2, 19.1,22.0, 19.0,22.4, 19.3,22.8, 19.6,22.8,
  19.7,22.8, 19.8,21.9, 18.9,21.0, 18.0,20.8, 17.8,20.6, 17.6,20.4, 17.4,20.2, 17.3,20.1, 17.1,20.0, 17.0,20.0,
  17.1,20.1, 17.2,20.0, 17.0,19.8, 16.9,20.0, 17.4,20.2, 17.8,20.3, 17.9,20.4, 18.0,20.6, 18.1,20.7, 18.2,20.5,
  18.0,20.3, 17.8,19.6, 16.9,19.0, 16.0,18.4, 15.4,17.8, 14.7,17.1, 14.4,16.4, 14.2,16.2, 14.1,16.0, 14.0,16.1,
  13.9,16.2, 13.8,16.1, 13.9,16.0, 14.0,16.2, 14.0,16.3, 14.1,16.4, 14.0,16.5, 14.0,16.3, 13.9,16.2, 13.8,16.1,
  13.6,16.0, 13.5,16.1, 13.0,16.2, 12.6,15.5, 12.6,14.9, 12.6,13.8, 11.0,12.6, 9.5,12.4, 10.2,12.2, 10.8,12.1,
  10.8,12.0, 10.9,12.0, 10.8,12.1, 10.8,12.2, 10.9,12.4, 11.0,11.7, 10.0,11.0, 9.0,10.7, 9.1,10.4, 9.2,10.5,
  9.2,10.6, 9.3,10.6, 9.3,10.7, 9.4,10.7, 9.4,10.8, 9.5,10.8, 9.5,10.9, 9.6,10.9, 9.6,11.0, 9.6,11.0,
  9.6,11.1, 9.7,10.0, 8.2,8.8, 8.1,9.0, 8.1,9.2, 8.2,9.3, 8.4,9.5, 8.6,9.6, 8.6,9.7, 8.7,9.4,
  8.3,9.2, 8.0,8.6, 7.0,7.8, 6.2,6.8, 5.4,5.8, 4.8,5.8, 4.9,5.9, 5.0,6.1, 5.2,6.3, 5.4,6.2,
  5.3,6.1, 5.3,6.0, 5.1,5.9, 4.9,6.4, 5.4,7.0, 6.0,7.8, 6.6,8.5, 7.2,8.2, 7.1,8.0, 7.0,8.0,
  7.1,8.1, 6.6,7.4, 5.4,6.4, 4.6,5.4, 3.8,4.6, 3.4,3.9,
];

const efUpstreamConfKRStartDay = 14;
const efUpstreamConfKR = [
  6.4,7.7, 6.4,7.6, 6.3,7.6, 6.3,7.5, 5.3,7.5, 4.3,6.0,
  3.7,4.5, 3.2,4.4, 3.1,4.4, 3.1,4.6, 3.3,4.8, 3.6,5.0, 3.7,5.1, 3.8,5.2, 3.9,5.4, 4.0,6.2,
  4.4,7.1, 4.7,6.6, 4.7,6.0, 4.7,6.5, 5.0,7.0, 5.4,7.7, 6.1,8.4, 6.8,9.3, 7.7,10.2, 8.6,11.0,
  9.0,11.9, 9.3,10.4, 8.2,9.0, 7.2,8.3, 6.4,7.6, 5.6,7.3, 5.4,7.0, 5.3,7.9, 6.6,8.8, 7.4,8.4,
  6.8,7.8, 6.0,7.5, 5.9,7.1, 5.8,7.6, 6.1,8.2, 6.4,9.7, 8.1,11.2, 9.8,11.5, 10.0,11.9, 10.2,11.8,
  10.1,11.6, 10.1,11.5, 10.1,11.4, 10.2,11.6, 10.1,11.8, 10.0,10.9, 8.0,10.0, 6.0,10.8, 8.2,11.7, 10.4,11.6,
  8.1,11.4, 5.8,10.8, 6.7,10.3, 7.6,9.8, 5.8,9.2, 4.0,8.6, 4.8,8.1, 5.6,8.0, 5.1,7.9, 4.6,9.4,
  6.1,11.0, 7.6,12.0, 8.4,13.0, 9.3,13.6, 9.6,14.2, 10.0,12.7, 8.9,11.2, 7.8,10.7, 7.4,10.2, 7.0,9.4,
  6.8,8.6, 6.6,10.3, 7.8,12.0, 9.0,12.8, 9.6,13.6, 10.2,14.2, 10.3,14.9, 10.5,14.6, 10.2,14.4, 10.0,13.7,
  9.2,13.0, 8.4,13.4, 8.7,13.8, 9.0,12.9, 8.8,12.0, 8.7,13.3, 9.8,14.6, 10.8,14.7, 10.9,14.9, 11.0,14.3,
  10.8,13.8, 10.6,14.5, 10.5,15.3, 10.4,13.2, 10.1,11.0, 9.8,13.1, 10.6,15.2, 11.5,16.0, 11.8,16.9, 12.0,16.0,
  11.2,15.0, 10.4,16.2, 11.9,17.4, 13.4,17.6, 13.3,17.8, 13.2,17.6, 13.2,17.5, 13.3,17.6, 13.0,17.8, 12.8,17.4,
  12.9,17.1, 13.0,17.6, 13.1,18.2, 13.2,19.4, 13.4,20.7, 13.6,20.5, 13.4,20.3, 13.2,18.8, 13.8,17.2, 14.4,19.6,
  15.9,22.0, 17.4,22.4, 17.5,22.8, 17.6,23.1, 17.7,23.4, 17.8,23.4, 17.9,23.5, 18.0,23.0, 17.6,22.6, 17.2,22.8,
  17.8,23.0, 18.4,23.3, 18.7,23.6, 19.0,23.7, 19.1,23.8, 19.2,24.2, 19.2,24.6, 19.3,24.3, 19.1,24.0, 19.0,23.8,
  19.2,23.7, 19.4,24.0, 19.7,24.2, 20.0,24.5, 20.9,24.8, 21.8,25.1, 21.9,25.4, 22.0,25.5, 22.1,25.7, 22.2,25.5,
  22.1,25.3, 22.1,25.8, 22.2,26.2, 22.4,26.4, 22.6,26.6, 22.8,25.9, 22.3,25.2, 21.8,25.0, 21.6,24.8, 21.4,25.0,
  21.6,25.3, 21.8,25.4, 22.0,25.5, 22.2,25.0, 22.0,24.6, 21.8,24.0, 21.4,23.5, 21.0,23.7, 21.1,23.9, 21.2,24.0,
  21.1,24.2, 21.0,24.1, 21.1,24.0, 21.2,24.2, 21.3,24.4, 21.4,24.2, 21.2,24.1, 21.0,24.2, 21.3,24.4, 21.6,24.8,
  21.7,25.2, 21.8,24.3, 20.9,23.4, 20.0,23.2, 19.8,23.0, 19.6,22.8, 19.4,22.6, 19.2,22.4, 19.1,22.1, 19.0,22.0,
  19.4,21.8, 19.8,21.4, 19.7,21.0, 19.6,21.7, 19.8,22.4, 20.0,22.6, 20.2,22.9, 20.4,23.0, 20.5,23.2, 20.6,23.0,
  20.4,22.8, 20.2,22.2, 19.4,21.6, 18.6,20.7, 17.8,19.8, 17.0,19.4, 16.9,19.0, 16.8,18.8, 16.7,18.6, 16.6,18.9,
  16.6,19.2, 16.7,19.0, 16.7,18.8, 16.8,18.9, 16.8,19.0, 16.9,19.0, 16.8,19.0, 16.8,18.9, 16.7,18.8, 16.6,18.6,
  16.5,18.5, 16.4,18.7, 15.7,18.9, 15.0,17.0, 13.6,14.8, 13.4,14.7, 13.0,14.6, 12.6,14.4, 12.7,14.2, 12.8,14.3,
  12.8,14.4, 12.9,14.5, 12.8,14.6, 12.8,14.5, 12.8,14.5, 12.9,14.2, 12.1,13.8, 11.3,13.5, 11.3,13.2, 11.4,13.3,
  11.5,13.4, 11.6,13.4, 11.6,13.5, 11.7,13.4, 11.7,13.4, 11.8,13.5, 11.8,13.6, 11.8,13.6, 11.8,13.7, 11.9,13.8,
  11.9,13.8, 11.9,12.9, 11.0,12.0, 10.8,11.8, 10.7,11.6, 10.6,11.9, 10.8,12.1, 10.9,12.0, 10.8,11.9, 10.7,11.6,
  10.2,11.2, 9.8,10.3, 8.9,9.4, 8.0,8.5, 7.2,7.6, 6.7,7.6, 6.7,7.7, 6.8,7.8, 6.8,7.8, 6.8,7.7,
  6.7,7.6, 6.7,7.6, 6.6,7.6, 6.6,8.4, 7.2,9.2, 7.8,9.9, 8.5,10.6, 9.2,10.2, 9.0,9.7, 8.8,9.6,
  8.7,9.4, 8.6,9.0, 7.2,7.8, 6.4,7.0, 5.8,6.3, 5.6,6.6, 6.0,7.4, 6.3,7.2,
];

const eastFork1Flowline: [number, number][] = [
  [0, 16], [2.2, 15.05], [4.2, 14.9], [5.7, 14.6], [6.2, 14], [9.2, 14], [11.2, 13.5], [13.1, 12.6], [14.6, 11.4], [16.1, 10.5],
  [17.1, 9.7], [18.1, 8.8], [18.6, 8.1], [19.1, 8.7], [19.6, 8.1], [20.1, 7.8], [22.1, 7.35], [27.1, 7.35], [28.6, 8.4], [30.1, 8.65],
  [33.6, 8.6], [34.6, 7.6], [35.6, 3.3], [36.1, 1.2], [36.6, 3.3], [37, 6.2], [38, 9.8], [39, 11.9], [40, 11.9], [41, 11.1],
  [42, 11.9], [43.5, 12.1], [45, 12.9], [47.5, 12.9], [48.5, 9.1], [49, 4.7], [50, 0], [52, 0], [53, 3.3], [54, 7.6],
  [55, 10.3], [56, 10.8], [57, 11.1], [58, 13.5], [59.5, 14.6], [61, 16], [62, 15.9], [62.5, 13.5], [63, 9.1], [63.4, 6.2],
  [65, 6.6], [66.5, 6.4], [67.4, 10.2], [68.5, 12.6], [69.5, 13.8], [70.9, 14], [71.9, 15.2], [72.9, 15.9], [79.4, 16], [80.4, 16.4],
  [81.4, 16.9], [83.9, 16.9], [84.4, 16.5], [85.3, 15.3], [86.3, 15], [88.3, 15], [89.3, 14.5], [89.8, 14], [90.8, 14], [91.3, 14.7],
  [92.3, 16.5], [93.3, 17], [94.3, 17.4], [94.8, 17.9], [95.3, 17.5], [95.8, 16.6], [96.8, 16], [97.3, 16.8], [97.8, 16.2], [98.8, 16.6],
  [99.3, 16], [100.3, 16.9], [101.3, 16.8], [102.3, 15.6], [102.8, 15], [106.8, 15], [107.8, 14.9], [108.3, 13.8], [108.8, 10.2], [109.3, 6.6],
  [109.8, 3], [110.1, 0], [110.9, 6.6], [111.4, 9], [111.9, 10.8], [112.4, 10.3], [113.2, 10.7], [114.2, 11.4], [115.2, 13.2], [116.2, 15],
  [117.7, 16], [121.7, 16], [122.2, 13.8], [122.7, 10.2], [123.2, 10.8], [124.2, 13.8], [125.2, 15.3], [125.7, 15.9], [126.2, 15.6], [127.2, 15.1],
  [129.7, 15], [130.7, 14], [131.7, 14], [133.8, 13.9], [134.8, 13.5], [135.3, 13.1], [135.8, 13.8], [136.7, 12.9], [140.7, 12.9], [141.7, 12.2],
  [142.7, 12], [146.7, 11.9], [147.6, 11.4], [148.1, 10.8], [148.6, 7.8], [149.1, 5.4], [149.6, 3], [150.1, 1.2], [151, 0.73], [152.6, 0.8],
  [157.1, 0.8], [159, 0.5], [160.6, 0.4], [167.5, 0.37], [169.5, 0.5], [174.5, 0.43], [177.5, 0.3], [180, 0.73], [181.5, 0.9], [183.9, 0.85],
  [185.5, 0.43], [188.5, 0.3], [191, 0.25], [193.4, 0.55], [198.4, 0.55], [204.4, 0.43], [210.4, 0.4], [211.4, 0.55], [220.3, 0.5], [223.3, 0.55],
  [230.3, 0.57], [243.2, 0.55], [245.7, 0.3], [247.2, 0.25], [249.2, 0.49], [250.7, 0.61], [260.2, 0.55], [272.1, 0.49], [276.1, 0.55], [293, 0.49],
  [296, 0.4], [298.5, 0.43], [300, 0.61], [301, 0.49], [302.5, 0.31], [309, 0.29], [310.5, 0.43], [312, 0.63], [313.4, 0.67], [316.4, 0.67],
];

// ---------- styles ----------
const C_BLACK = "#000000";
const C_GREEN = "#2ca02c";
const C_CYAN = "#00ffff";
const C_YELLOW = "#ffff00";
const C_RED = "#ff0000";
const C_BLUE = "#0000ff";
const C_PURPLE = "#aa3ee0";
const C_BLUE2 = "#4646ff";

// time of day of the daily minimum and maximum (fraction of a day)
const MIN_TIME = 0.25;
const MAX_TIME = 0.7;

type Item = { label: string; color: string; width: number; dash?: number[] };

const tempSeries = (label: string, color: string, start: number, minMax: number[], width = 1.3) => {
  const data: { x: number; y: number }[] = [];
  for (let i = 0; i + 1 < minMax.length; i += 2) {
    const day = start + i / 2;
    data.push({ x: day + MIN_TIME, y: minMax[i] });
    data.push({ x: day + MAX_TIME, y: minMax[i + 1] });
  }
  return {
    label,
    data,
    borderColor: color,
    backgroundColor: color,
    borderWidth: width,
    borderJoinStyle: "round",
    pointRadius: 0,
    tension: 0,
    yAxisID: "y",
    order: 0,
  };
};

const flowSeries = (label: string, color: string, pairs: [number, number][], width: number, dash: number[]) => ({
  label,
  data: pairs.map(([x, y]) => ({ x, y })),
  borderColor: color,
  backgroundColor: color,
  borderWidth: width,
  borderDash: dash,
  borderCapStyle: "round",
  pointRadius: 0,
  tension: 0,
  yAxisID: "y1",
  order: -1,
});

interface Spec {
  title: string;
  titleCx: number;
  titleCy: number;
  chartTop: number;
  xHeight: number;
  yWidth: number;
  y1Width: number;
  tempTicks: number[];
  flowTicks: number[];
  flowMax: number;
  flowLabelStep: number;
  xTicks: number[];
  yTitlePad: number;
  yLabelPad: number;
  y1LabelPad: number;
  xLabelPad: number;
  xTitlePad: number;
  rightTitleX: number;
  legend: {
    x: number; y: number; w: number; h: number; row0: number; gap: number;
    lx0: number; lx1: number; tx: number; fontSize: number; border: string; borderWidth: number; items: Item[];
  };
  datasets: any[];
}

function decorPlugin(spec: Spec) {
  return {
    id: "decor",
    afterDraw(chart: any) {
      const ctx: CanvasRenderingContext2D = chart.ctx;
      const a = chart.chartArea;
      ctx.save();
      ctx.strokeStyle = "#3a3a3a";
      ctx.lineWidth = 1.5;
      ctx.beginPath();
      ctx.moveTo(a.left, a.top);
      ctx.lineTo(a.right, a.top);
      ctx.stroke();
      ctx.strokeStyle = "#333";
      ctx.lineWidth = 1;
      const ys = chart.scales.y;
      ys.ticks.forEach((t: any) => {
        const p = Math.round(ys.getPixelForValue(t.value)) + 0.5;
        const major = Math.abs(t.value % 5) < 1e-6;
        const len = major ? 9 : 5;
        ctx.beginPath();
        ctx.moveTo(a.left - len, p);
        ctx.lineTo(a.left, p);
        ctx.stroke();
      });
      const y1 = chart.scales.y1;
      y1.ticks.forEach((t: any) => {
        const p = Math.round(y1.getPixelForValue(t.value)) + 0.5;
        const major = Math.abs(t.value % spec.flowLabelStep) < 1e-6;
        const len = major ? 9 : 5;
        ctx.beginPath();
        ctx.moveTo(a.right, p);
        ctx.lineTo(a.right + len, p);
        ctx.stroke();
      });
      const xs = chart.scales.x;
      xs.ticks.forEach((t: any) => {
        const p = Math.round(xs.getPixelForValue(t.value)) + 0.5;
        const major = monthStartDays.includes(t.value);
        const len = major ? 8 : 5;
        ctx.beginPath();
        ctx.moveTo(p, a.bottom);
        ctx.lineTo(p, a.bottom + len);
        ctx.stroke();
      });
      ctx.font = `14.5px ${FONT}`;
      ctx.fillStyle = TEXT;
      ctx.textAlign = "center";
      ctx.textBaseline = "middle";
      const tw = ctx.measureText(spec.title).width;
      ctx.strokeStyle = "#333";
      ctx.lineWidth = 1;
      ctx.strokeRect(Math.round(spec.titleCx - tw / 2 - 4) + 0.5, Math.round(spec.titleCy - 12) + 0.5, Math.round(tw + 8), 24);
      ctx.fillText(spec.title, spec.titleCx, spec.titleCy + 1);
      ctx.save();
      ctx.translate(spec.rightTitleX, (a.top + a.bottom) / 2);
      ctx.rotate(-Math.PI / 2);
      ctx.font = `15px ${FONT}`;
      ctx.fillText("Flow (cfs)", 0, 0);
      ctx.restore();
      const L = spec.legend;
      ctx.fillStyle = "#ffffff";
      ctx.fillRect(L.x, L.y, L.w, L.h);
      ctx.strokeStyle = L.border;
      ctx.lineWidth = L.borderWidth;
      ctx.strokeRect(L.x + 0.5, L.y + 0.5, L.w, L.h);
      L.items.forEach((it, i) => {
        const yy = L.row0 + i * L.gap;
        ctx.beginPath();
        ctx.setLineDash(it.dash || []);
        ctx.lineCap = it.dash ? "round" : "butt";
        ctx.strokeStyle = it.color;
        ctx.lineWidth = it.width;
        ctx.moveTo(L.lx0, yy);
        ctx.lineTo(L.lx1, yy);
        ctx.stroke();
        ctx.setLineDash([]);
        ctx.fillStyle = TEXT;
        ctx.font = `${L.fontSize}px ${FONT}`;
        ctx.textAlign = "left";
        ctx.textBaseline = "middle";
        ctx.fillText(it.label, L.tx, yy + 0.5);
      });
      ctx.restore();
    },
  };
}

function makeConfig(spec: Spec): any {
  const isMonth = (v: number) => monthStartDays.includes(v);
  return {
    type: "line",
    data: { datasets: spec.datasets },
    options: {
      responsive: false,
      animation: false,
      devicePixelRatio: 1,
      events: [],
      layout: { padding: { top: spec.chartTop, left: 0, right: 0, bottom: 0 } },
      plugins: { legend: { display: false }, tooltip: { enabled: false }, title: { display: false } },
      elements: { point: { radius: 0 }, line: { tension: 0 } },
      scales: {
        x: {
          type: "linear",
          min: 0,
          max: 333,
          afterBuildTicks: (s: any) => {
            s.ticks = spec.xTicks.map((v) => ({ value: v }));
          },
          afterFit: (s: any) => {
            s.height = spec.xHeight;
          },
          ticks: {
            autoSkip: false,
            maxRotation: 0,
            minRotation: 0,
            padding: spec.xLabelPad,
            color: TEXT,
            font: { family: FONT, size: 14 },
            callback: (v: any) => {
              const i = monthStartDays.indexOf(Number(v));
              return i >= 0 ? monthLabels[i] : "";
            },
          },
          grid: {
            drawTicks: false,
            color: (c: any) => (c.tick && isMonth(c.tick.value) ? "#d0d0d0" : "rgba(0,0,0,0)"),
            lineWidth: 1.5,
          },
          border: { display: true, color: "#333", width: 1.5 },
          title: {
            display: true,
            text: "Date",
            color: TEXT,
            font: { family: FONT, size: 16 },
            padding: { top: 0, bottom: spec.xTitlePad },
          },
        },
        y: {
          type: "linear",
          position: "left",
          min: 0,
          max: 30,
          afterBuildTicks: (s: any) => {
            s.ticks = spec.tempTicks.map((v) => ({ value: v }));
          },
          afterFit: (s: any) => {
            s.width = spec.yWidth;
          },
          ticks: {
            padding: spec.yLabelPad,
            color: TEXT,
            font: { family: FONT, size: 14 },
            callback: (v: any) => (Math.abs(Number(v) % 5) < 1e-6 ? String(v) : ""),
          },
          grid: {
            drawTicks: false,
            color: (c: any) => (c.tick && Math.abs(c.tick.value % 5) < 1e-6 ? "#c2c2c2" : "#ebebeb"),
            lineWidth: (c: any) => (c.tick && Math.abs(c.tick.value % 5) < 1e-6 ? 1.5 : 1.2),
          },
          border: { display: true, color: "#333", width: 1.5 },
          title: {
            display: true,
            text: "Water Temperature ( °C)",
            color: TEXT,
            font: { family: FONT, size: 15 },
            padding: { top: spec.yTitlePad, bottom: 0 },
          },
        },
        y1: {
          type: "linear",
          position: "right",
          min: 0,
          max: spec.flowMax,
          afterBuildTicks: (s: any) => {
            s.ticks = spec.flowTicks.map((v) => ({ value: v }));
          },
          afterFit: (s: any) => {
            s.width = spec.y1Width;
          },
          ticks: {
            padding: spec.y1LabelPad,
            color: TEXT,
            font: { family: FONT, size: 14 },
            callback: (v: any) => (Math.abs(Number(v) % spec.flowLabelStep) < 1e-6 ? String(v) : ""),
          },
          grid: { drawOnChartArea: false, drawTicks: false },
          border: { display: true, color: "#333", width: 1.5 },
        },
      },
    },
    plugins: [decorPlugin(spec)],
  };
}

const topSpec: Spec = {
  title: "Kaweah River Water Temperatures and Diversion Flow",
  titleCx: 633,
  titleCy: 27,
  chartTop: 46,
  xHeight: 74,
  yWidth: 82,
  y1Width: 83,
  tempTicks: topTempTicks,
  flowTicks: topFlowTicks,
  flowMax: 100,
  flowLabelStep: 20,
  xTicks: monthStartDays,
  yTitlePad: 23,
  yLabelPad: 20,
  y1LabelPad: 18,
  xLabelPad: 18,
  xTitlePad: 18,
  rightTitleX: 1235,
  legend: {
    x: 88, y: 54, w: 334, h: 130, row0: 69, gap: 16.75, lx0: 95, lx1: 167, tx: 174, fontSize: 10.3,
    border: "#222", borderWidth: 1,
    items: [
      { label: "KR Upstream of PH3 (Temperature)", color: C_BLACK, width: 2 },
      { label: "KR Downstream of the Conf. with EF (Temperature)", color: C_GREEN, width: 2 },
      { label: "KR Downstream of PH1 (Temperature)", color: C_CYAN, width: 2 },
      { label: "KR Downstream of PH2 (Temperature)", color: C_YELLOW, width: 1.5 },
      { label: "KR Downstream of the Conf. with NF (Temperature)", color: C_RED, width: 2 },
      { label: "Kaweah No. 2 Flowline", color: C_BLUE, width: 3, dash: [0.1, 5] },
      { label: "Kaweah No. 3 Flowline", color: C_PURPLE, width: 2.3, dash: [0.1, 4.3] },
    ],
  },
  datasets: [
    tempSeries("KR Upstream of PH3 (Temperature)", C_BLACK, 0, krUpstreamPH3),
    tempSeries("KR Downstream of the Conf. with EF (Temperature)", C_GREEN, 0, krDownstreamConfEF),
    tempSeries("KR Downstream of PH1 (Temperature)", C_CYAN, 0, krDownstreamPH1),
    tempSeries("KR Downstream of PH2 (Temperature)", C_YELLOW, 0, krDownstreamPH2),
    tempSeries("KR Downstream of the Conf. with NF (Temperature)", C_RED, 0, krDownstreamConfNF),
    flowSeries("Kaweah No. 2 Flowline", C_BLUE, kaweah2Flowline, 3.2, [0.1, 5.2]),
    flowSeries("Kaweah No. 3 Flowline", C_PURPLE, kaweah3Flowline, 2.3, [0.1, 4.3]),
  ],
};

const bottomSpec: Spec = {
  title: "East Fork Kaweah Water Temperatures and Diversion Flow",
  titleCx: 632,
  titleCy: 32,
  chartTop: 52,
  xHeight: 59,
  yWidth: 76,
  y1Width: 71,
  tempTicks: bottomTempTicks,
  flowTicks: bottomFlowTicks,
  flowMax: 20,
  flowLabelStep: 4,
  xTicks: [...monthStartDays, ...midMonthDays].sort((p, q) => p - q),
  yTitlePad: 17,
  yLabelPad: 18,
  y1LabelPad: 18,
  xLabelPad: 19,
  xTitlePad: 1,
  rightTitleX: 1240,
  legend: {
    x: 793, y: 68, w: 386, h: 76, row0: 86, gap: 19.7, lx0: 802, lx1: 886, tx: 895, fontSize: 12.2,
    border: "#555", borderWidth: 1.5,
    items: [
      { label: "EF at Kaweah No. 1 Diversion Dam (Temperature)", color: C_BLACK, width: 2 },
      { label: "EF Upstream of the Conf. with KR (Temperature)", color: C_RED, width: 2 },
      { label: "East Fork No. 1 Flowline", color: C_BLUE2, width: 3.2, dash: [0.1, 6] },
    ],
  },
  datasets: [
    tempSeries("EF at Kaweah No. 1 Diversion Dam (Temperature)", C_BLACK, efDiversionDamStartDay, efDiversionDam),
    tempSeries("EF Upstream of the Conf. with KR (Temperature)", C_RED, efUpstreamConfKRStartDay, efUpstreamConfKR),
    flowSeries("East Fork No. 1 Flowline", C_BLUE2, eastFork1Flowline, 3.2, [0.1, 6]),
  ],
};

export default function App() {
  const topRef = useRef<HTMLCanvasElement>(null);
  const botRef = useRef<HTMLCanvasElement>(null);

  useEffect(() => {
    const c1 = new Chart(topRef.current as HTMLCanvasElement, makeConfig(topSpec));
    const c2 = new Chart(botRef.current as HTMLCanvasElement, makeConfig(bottomSpec));
    return () => {
      c1.destroy();
      c2.destroy();
    };
  }, []);

  return (
    <div style={{ position: "absolute", left: 0, top: 0, width: 1259, height: 1336, background: "#fff", overflow: "hidden" }}>
      <canvas ref={topRef} width={1259} height={668} style={{ position: "absolute", left: 0, top: 0 }} />
      <canvas ref={botRef} width={1259} height={668} style={{ position: "absolute", left: 0, top: 668 }} />
      <div style={{ position: "absolute", left: 9, top: 7, width: 1249, height: 650, border: "2px solid #9a9a9a", boxSizing: "border-box", pointerEvents: "none" }} />
      <div style={{ position: "absolute", left: 9, top: 682, width: 1249, height: 700, border: "2px solid #9a9a9a", boxSizing: "border-box", pointerEvents: "none" }} />
    </div>
  );
}
